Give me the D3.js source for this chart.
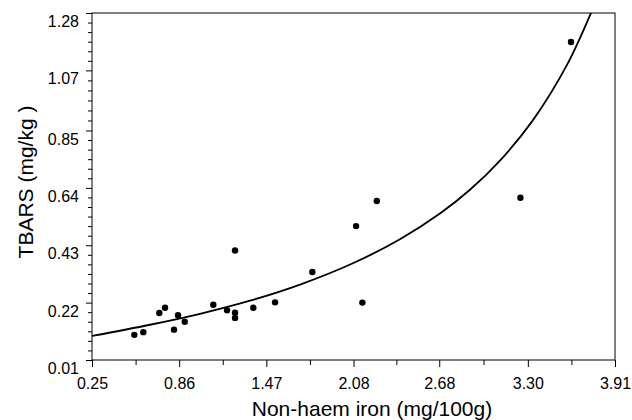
<!DOCTYPE html>
<html>
<head>
<meta charset="utf-8">
<script src="https://cdn.jsdelivr.net/npm/d3@7"></script>
<style>
  body { margin: 0; background: #fff; }
  svg text { font-family: "Liberation Sans", Arial, sans-serif; fill: #000; }
</style>
</head>
<body>
<svg id="chart" width="632" height="420"></svg>
<script>
// measured points: non-haem iron (mg/100g) vs TBARS (mg/kg)
const ironVals  = [0.546, 0.609, 0.721, 0.761, 0.824, 0.852, 0.899, 1.099, 1.195, 1.251,
                   1.251, 1.251, 1.379, 1.531, 1.792, 2.098, 2.142, 2.243, 3.248, 3.602];
const tbarsVals = [0.102, 0.112, 0.182, 0.201, 0.121, 0.174, 0.150, 0.212, 0.192, 0.183,
                   0.164, 0.411, 0.201, 0.221, 0.332, 0.500, 0.220, 0.592, 0.604, 1.174];

// fitted curve
const fitX = [0.25, 0.656, 1.006, 1.356, 1.706, 2.076, 2.405, 2.685, 2.895, 3.105, 3.336, 3.574, 3.749];
const fitY = [0.098, 0.139, 0.179, 0.227, 0.286, 0.364, 0.452, 0.546, 0.633, 0.740, 0.888, 1.090, 1.289];

const xTicks = [0.25, 0.86, 1.47, 2.08, 2.68, 3.30, 3.91];
const yTicks = [0.01, 0.22, 0.43, 0.64, 0.85, 1.07, 1.28];

const plotLeft = 92, plotRight = 615, plotTop = 13, plotBottom = 360;

const svg = d3.select("#chart");

const xScale = d3.scaleLinear().domain([0.25, 3.91]).range([plotLeft, plotRight]);
const yScale = d3.scaleLinear().domain([0.01, 1.28]).range([plotBottom, plotTop]);

// minor ticks: one between x majors, five between y majors
const xMinor = [];
for (let i = 0; i < xTicks.length - 1; i++) xMinor.push((xTicks[i] + xTicks[i + 1]) / 2);
const yMinor = [];
for (let i = 0; i < yTicks.length - 1; i++) {
    for (let k = 1; k < 6; k++) yMinor.push(yTicks[i] + (yTicks[i + 1] - yTicks[i]) * k / 6);
}

// frame
svg.append("rect")
    .attr("x", plotLeft).attr("y", plotTop)
    .attr("width", plotRight - plotLeft).attr("height", plotBottom - plotTop)
    .attr("fill", "none").attr("stroke", "#000").attr("stroke-width", 1);

// x axis
let xAxis = d3.axisBottom(xScale).tickValues(xTicks).tickSize(7).tickPadding(16)
                .tickFormat(d3.format(".2f"));
let gx = svg.append("g").attr("transform", "translate(0," + plotBottom + ")").call(xAxis);
gx.select(".domain").remove();
gx.selectAll("text").attr("font-size", 16).attr("dy", 0).attr("y", 29)
    .attr("font-family", "Liberation Sans, Arial, sans-serif");
gx.selectAll("line").attr("stroke", "#000");
svg.append("g").attr("transform", "translate(0," + plotBottom + ")")
    .call(d3.axisBottom(xScale).tickValues(xMinor).tickSize(5).tickFormat(""))
    .call(g => g.select(".domain").remove())
    .selectAll("line").attr("stroke", "#000");

// y axis
let yAxis = d3.axisLeft(yScale).tickValues(yTicks).tickSize(6).tickPadding(7)
                .tickFormat(d3.format(".2f"));
let gy = svg.append("g").attr("transform", "translate(" + plotLeft + ",0)").call(yAxis);
gy.select(".domain").remove();
gy.selectAll("text").attr("font-size", 16).attr("dy", "0.35em").attr("y", 8)
    .attr("font-family", "Liberation Sans, Arial, sans-serif");
gy.selectAll("line").attr("stroke", "#000");
svg.append("g").attr("transform", "translate(" + plotLeft + ",0)")
    .call(d3.axisLeft(yScale).tickValues(yMinor).tickSize(4).tickFormat(""))
    .call(g => g.select(".domain").remove())
    .selectAll("line").attr("stroke", "#000");

// axis titles
svg.append("text")
    .attr("x", 372).attr("y", 416)
    .attr("text-anchor", "middle").attr("font-size", 21)
    .text("Non-haem iron (mg/100g)");
svg.append("text")
    .attr("transform", "translate(33,182) rotate(-90)")
    .attr("text-anchor", "middle").attr("font-size", 21)
    .text("TBARS (mg/kg )");

// clip for the curve
svg.append("clipPath").attr("id", "plot-clip")
    .append("rect").attr("x", plotLeft).attr("y", plotTop)
    .attr("width", plotRight - plotLeft).attr("height", plotBottom - plotTop);

const fitLine = d3.line()
    .x((d, i) => xScale(fitX[i]))
    .y((d, i) => yScale(fitY[i]))
    .curve(d3.curveCatmullRom);

svg.append("path")
    .attr("clip-path", "url(#plot-clip)")
    .attr("d", fitLine(fitX))
    .attr("fill", "none")
    .attr("stroke", "#000")
    .attr("stroke-width", 1.8);

svg.append("g").selectAll("circle")
    .data(ironVals)
    .enter().append("circle")
        .attr("cx", (d) => xScale(d))
        .attr("cy", (d, i) => yScale(tbarsVals[i]))
        .attr("r", 3.2)
        .attr("fill", "#000");
</script>
</body>
</html>
